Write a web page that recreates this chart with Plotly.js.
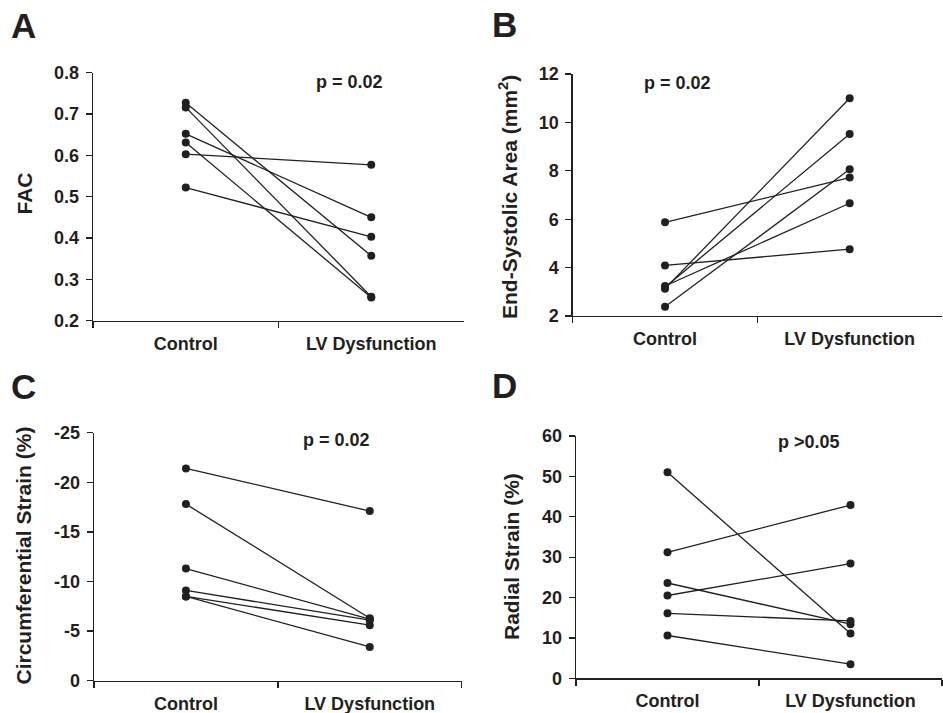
<!DOCTYPE html>
<html>
<head>
<meta charset="utf-8">
<script src="https://cdn.plot.ly/plotly-3.0.1.min.js"></script>
<style>html,body{margin:0;padding:0;background:#fff;}#chart{width:943px;height:713px;}</style>
</head>
<body>
<div id="chart"></div>
<script>
// ---- data ----
var categories = ['Control', 'LV Dysfunction'];

// Panel A: FAC
var facControl = [0.727, 0.716, 0.652, 0.631, 0.603, 0.522];
var facLV      = [0.357, 0.258, 0.450, 0.256, 0.577, 0.403];

// Panel B: End-Systolic Area (mm2)
var esaControl = [5.87, 4.09, 3.13, 3.19, 3.24, 2.38];
var esaLV      = [7.72, 4.76, 11.0, 9.52, 6.66, 8.06];

// Panel C: Circumferential Strain (%)
var csControl = [-21.4, -17.8, -11.3, -9.1, -8.5, -8.5];
var csLV      = [-17.1, -6.3, -6.2, -6.1, -5.6, -3.4];
var csTickVals = [0, -5, -10, -15, -20, -25];
var csTickText = ['0', '-5', '-10', '-15', '-20', '-25'];

// Panel D: Radial Strain (%)
var rsControl = [51.0, 31.2, 23.6, 20.5, 16.1, 10.6];
var rsLV      = [11.1, 42.9, 13.4, 28.4, 14.2, 3.5];

var pLabels = ['p = 0.02', 'p = 0.02', 'p = 0.02', 'p >0.05'];
var panelLetters = ['A', 'B', 'C', 'D'];
var yTitles = ['FAC', 'End-Systolic Area (mm<sup>2</sup>)', 'Circumferential Strain (%)', 'Radial Strain (%)'];

// ---- build ----
var W = 943, H = 713;
var INK = '#231f20';
var FONT = 'Liberation Sans, Arial, sans-serif';
function px(x) { return x / W; }
function py(y) { return 1 - y / H; }

var panels = [
  {c: facControl, l: facLV, xa: 'x', ya: 'y'},
  {c: esaControl, l: esaLV, xa: 'x2', ya: 'y2'},
  {c: csControl, l: csLV, xa: 'x3', ya: 'y3'},
  {c: rsControl, l: rsLV, xa: 'x4', ya: 'y4'}
];

var traces = [];
panels.forEach(function (p) {
  for (var i = 0; i < p.c.length; i++) {
    traces.push({
      type: 'scatter', mode: 'lines+markers',
      x: categories, y: [p.c[i], p.l[i]],
      xaxis: p.xa, yaxis: p.ya,
      line: {color: INK, width: 1.3},
      marker: {color: INK, size: 8},
      hoverinfo: 'x+y', showlegend: false, cliponaxis: false
    });
  }
});

function xAxis(domain, anchor) {
  return {
    domain: domain, anchor: anchor, type: 'category',
    range: [-0.5, 1.5], tickson: 'boundaries',
    ticks: 'outside', ticklen: 6, tickwidth: 1.3, tickcolor: INK,
    ticklabelstandoff: 6,
    showline: true, linecolor: INK, linewidth: 1.3,
    showgrid: false, zeroline: false,
    tickfont: {family: FONT, size: 18, color: INK, weight: 'bold'},
    fixedrange: true
  };
}
function yAxis(domain, anchor, extra) {
  var a = {
    domain: domain, anchor: anchor,
    ticks: 'outside', ticklen: 6, tickwidth: 1.3, tickcolor: INK,
    ticklabelstandoff: 3,
    showline: true, linecolor: INK, linewidth: 1.3,
    showgrid: false, zeroline: false,
    tickfont: {family: FONT, size: 18, color: INK, weight: 'bold'},
    fixedrange: true
  };
  for (var k in extra) a[k] = extra[k];
  return a;
}

var dom = {
  A: {x: [px(93), px(464)], y: [py(320.7), py(72.7)]},
  B: {x: [px(572.7), px(942)], y: [py(316), py(74)]},
  C: {x: [px(94), px(461.7)], y: [py(680.7), py(432.7)]},
  D: {x: [px(576), px(942)], y: [py(678.3), py(436)]}
};

var layout = {
  width: W, height: H,
  margin: {l: 0, r: 0, t: 0, b: 0},
  paper_bgcolor: '#fff', plot_bgcolor: '#fff',
  showlegend: false,
  font: {family: FONT, color: INK},
  xaxis: xAxis(dom.A.x, 'y'),
  yaxis: yAxis(dom.A.y, 'x', {range: [0.2, 0.8], dtick: 0.1, tick0: 0.2, tickformat: '.1f'}),
  xaxis2: xAxis(dom.B.x, 'y2'),
  yaxis2: yAxis(dom.B.y, 'x2', {range: [2, 12], dtick: 2, tick0: 2}),
  xaxis3: xAxis(dom.C.x, 'y3'),
  yaxis3: yAxis(dom.C.y, 'x3', {range: [0, -25], tickmode: 'array', tickvals: csTickVals, ticktext: csTickText}),
  xaxis4: xAxis(dom.D.x, 'y4'),
  yaxis4: yAxis(dom.D.y, 'x4', {range: [0, 60], dtick: 10, tick0: 0}),
  annotations: []
};

var letterPos = [[23, 25], [504, 24], [23, 386], [504, 385]];
var pPos = [[349, 82], [677, 83], [336, 440], [809, 442]];
var titlePos = [[23.5, 194], [508, 197], [22.5, 556], [511, 557]];

for (var i = 0; i < 4; i++) {
  layout.annotations.push({
    xref: 'paper', yref: 'paper', x: px(letterPos[i][0]), y: py(letterPos[i][1]),
    xanchor: 'center', yanchor: 'middle', showarrow: false,
    text: panelLetters[i],
    font: {family: FONT, size: 35, color: INK, weight: 'bold'}
  });
  layout.annotations.push({
    xref: 'paper', yref: 'paper', x: px(pPos[i][0]), y: py(pPos[i][1]),
    xanchor: 'center', yanchor: 'middle', showarrow: false,
    text: pLabels[i],
    font: {family: FONT, size: 18, color: INK, weight: 'bold'}
  });
  layout.annotations.push({
    xref: 'paper', yref: 'paper', x: px(titlePos[i][0]), y: py(titlePos[i][1]),
    xanchor: 'center', yanchor: 'middle', showarrow: false, textangle: -90,
    text: yTitles[i],
    font: {family: FONT, size: 21, color: INK, weight: 'bold'}
  });
}

Plotly.newPlot('chart', traces, layout, {displayModeBar: false, staticPlot: true});
</script>
</body>
</html>
